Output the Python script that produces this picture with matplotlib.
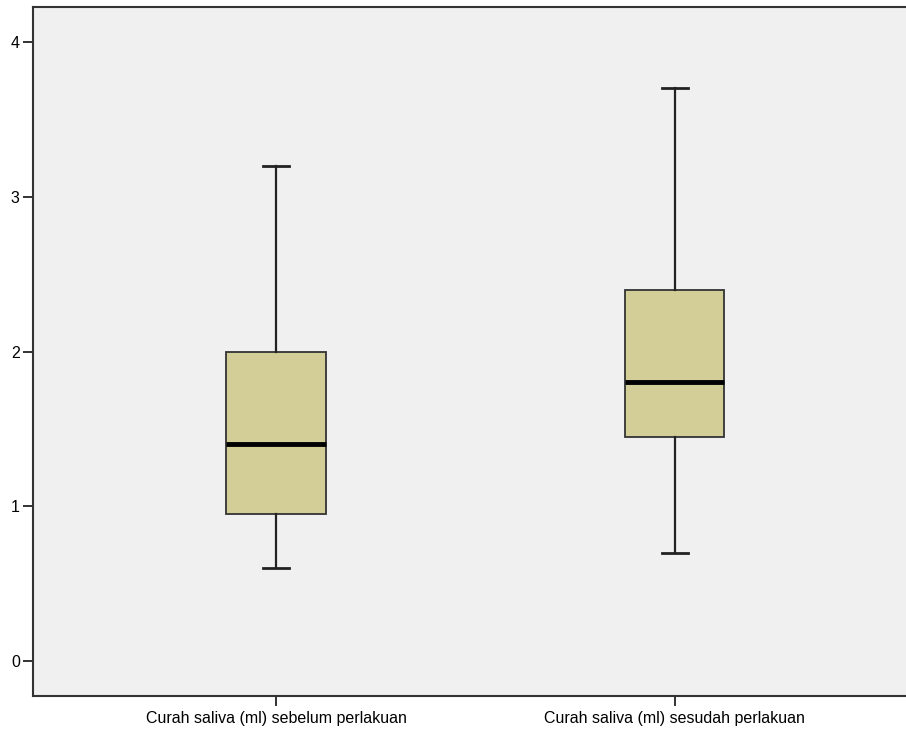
import matplotlib
matplotlib.use("Agg")
import matplotlib.pyplot as plt

categories = ["Curah saliva (ml) sebelum perlakuan", "Curah saliva (ml) sesudah perlakuan"]
whislo = [0.6, 0.7]
q1 = [0.95, 1.45]
med = [1.4, 1.8]
q3 = [2.0, 2.4]
whishi = [3.2, 3.7]
yticks = [0, 1, 2, 3, 4]

plt.rcParams['font.family'] = ['Liberation Sans', 'DejaVu Sans']

fig = plt.figure(figsize=(9.06, 7.29), dpi=100)
ax = fig.add_axes([33/906, 33/729, 1 - 33/906 + 0.002, (696-7)/729])
ax.set_facecolor('#F0F0F0')

stats = []
for i, c in enumerate(categories):
    stats.append(dict(label=c, whislo=whislo[i], q1=q1[i], med=med[i], q3=q3[i], whishi=whishi[i], fliers=[]))

ax.bxp(stats, positions=[1, 2], widths=0.25, capwidths=0.065, patch_artist=True,
       boxprops=dict(facecolor='#D3CE97', edgecolor='#333333', linewidth=1.3),
       medianprops=dict(color='black', linewidth=3.5),
       whiskerprops=dict(color='#222222', linewidth=1.6),
       capprops=dict(color='#222222', linewidth=2.0),
       showfliers=False)

ax.set_xlim(0.39, 2.585)
ax.set_ylim(-0.226, 4.226)
ax.set_yticks(yticks)
ax.set_yticklabels([str(t) for t in yticks])
ax.set_xticks([1, 2])
ax.set_xticklabels(categories)
ax.tick_params(axis='both', labelsize=11.5, color='#222222', width=1.3, length=7.5, direction='out')
ax.tick_params(axis='y', pad=2)
ax.tick_params(axis='x', pad=3)
for s in ['left', 'top', 'bottom']:
    ax.spines[s].set_color('#333333')
    ax.spines[s].set_linewidth(1.5)
ax.spines['right'].set_visible(False)

fig.savefig("out.png", dpi=100)
